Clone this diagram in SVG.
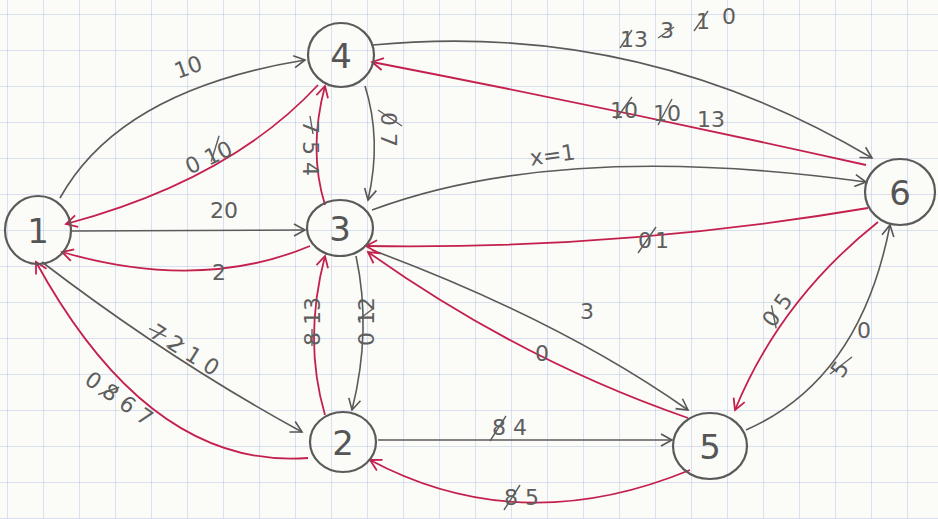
<svg xmlns="http://www.w3.org/2000/svg" width="938" height="519" viewBox="0 0 938 519">
<defs>
<pattern id="grid" width="36" height="36" patternUnits="userSpaceOnUse" x="7" y="14">
<path d="M0,0 L36,0 M0,0 L0,36" fill="none" stroke="#b9c5e6" stroke-width="1"/>
</pattern>
<marker id="ag" markerWidth="14" markerHeight="14" refX="12" refY="7" orient="auto" markerUnits="userSpaceOnUse">
<path d="M1,1 L12,7 L1,13" fill="none" stroke="#555" stroke-width="1.6"/>
</marker>
<marker id="ar" markerWidth="14" markerHeight="14" refX="12" refY="7" orient="auto" markerUnits="userSpaceOnUse">
<path d="M1,1 L12,7 L1,13" fill="none" stroke="#c4204e" stroke-width="1.8"/>
</marker>
</defs>
<style>
.node ellipse{fill:none;stroke:#5a5a5a;stroke-width:2.2}
.node text{font-family:"DejaVu Sans",sans-serif;font-size:34px;fill:#555;text-anchor:middle}
.g{fill:none;stroke:#5a5a5a;stroke-width:1.6;marker-end:url(#ag)}
.r{fill:none;stroke:#c4204e;stroke-width:1.8;marker-end:url(#ar)}
.lbl text{font-family:"DejaVu Sans",sans-serif;font-size:22px;fill:#5e5e5e}
.lbl line{stroke:#5e5e5e;stroke-width:1.4}
</style>
<rect width="938" height="519" fill="#fbfbf8"/>
<rect width="938" height="519" fill="url(#grid)"/>
<g id="connectors">
<path class="g" d="M60,198 Q120,90 305,60"/>
<path class="g" d="M373,45 Q640,20 872,158"/>
<path class="g" d="M365,86 Q382,140 368,200"/>
<path class="g" d="M72,231 L305,230"/>
<path class="g" d="M372,210 Q560,140 866,182"/>
<path class="g" d="M42,262 Q170,360 302,432"/>
<path class="g" d="M356,256 Q372,330 352,410"/>
<path class="g" d="M372,250 Q560,320 688,410"/>
<path class="g" d="M378,440 L672,440"/>
<path class="g" d="M746,430 Q860,380 890,225"/>
<path class="r" d="M318,85 Q230,180 66,224"/>
<path class="r" d="M325,205 Q308,150 325,86"/>
<path class="r" d="M866,165 Q620,110 372,62"/>
<path class="r" d="M310,246 Q200,292 62,252"/>
<path class="r" d="M868,208 Q620,250 366,246"/>
<path class="r" d="M325,415 Q303,340 325,256"/>
<path class="r" d="M308,458 Q150,470 36,262"/>
<path class="r" d="M688,418 Q520,360 368,252"/>
<path class="r" d="M878,222 Q780,300 735,410"/>
<path class="r" d="M690,470 Q520,540 370,460"/>
</g>
<g id="labels" class="lbl">
<text x="175" y="76" transform="rotate(-20 185 70)">10</text>
<g transform="rotate(-25 205 160)"><text x="185" y="167">0 10</text><line x1="210" y1="164" x2="228" y2="144"/></g>
<g><text x="620" y="47">13</text><line x1="620" y1="48" x2="632" y2="30"/><text x="660" y="38">3</text><line x1="658" y1="38" x2="674" y2="27"/><text x="696" y="29">1</text><line x1="694" y1="31" x2="708" y2="11"/><text x="722" y="24">0</text></g>
<g><text x="610" y="118">10</text><line x1="616" y1="119" x2="632" y2="97"/><text x="653" y="121">10</text><line x1="658" y1="125" x2="672" y2="99"/><text x="697" y="127">13</text></g>
<g transform="rotate(90 388 130)"><text x="370" y="137">0 7</text><line x1="368" y1="140" x2="384" y2="116"/></g>
<g transform="rotate(90 310 150)"><text x="280" y="157">7 5 4</text><line x1="276" y1="150" x2="294" y2="147"/></g>
<text x="210" y="218">20</text>
<text x="212" y="280">2</text>
<text x="530" y="163" transform="rotate(-8 550 157)">x=1</text>
<g><text x="638" y="248">0</text><line x1="638" y1="253" x2="656" y2="227"/><text x="655" y="248">1</text></g>
<g transform="rotate(-90 312 322)"><text x="288" y="330">8 13</text><line x1="288" y1="322" x2="305" y2="322"/></g>
<g transform="rotate(-90 366 322)"><text x="342" y="330">0 12</text><line x1="368" y1="314" x2="380" y2="330"/></g>
<text x="580" y="319">3</text>
<text x="535" y="361">0</text>
<g><text x="492" y="435">8 4</text><line x1="490" y1="441" x2="506" y2="416"/></g>
<g><text x="504" y="505">8 5</text><line x1="504" y1="510" x2="520" y2="485"/></g>
<g transform="rotate(-55 778 310)"><text x="760" y="317">0 5</text><line x1="762" y1="319" x2="778" y2="302"/></g>
<g><text x="832" y="376" transform="rotate(-55 840 368)">5</text><line x1="830" y1="374" x2="852" y2="357"/><text x="857" y="338">0</text></g>
<g transform="rotate(32 185 352)"><text x="145" y="358">7 2 1 0</text><line x1="142" y1="351" x2="161" y2="349"/><line x1="166" y1="357" x2="180" y2="345"/></g>
<g transform="rotate(35 120 400)"><text x="80" y="407">0 8 6 7</text><line x1="99" y1="408" x2="112" y2="390"/></g>
</g>
<g id="n1" class="node"><ellipse cx="38" cy="230" rx="33" ry="34"/><text x="38" y="243">1</text></g>
<g id="n4" class="node"><ellipse cx="341" cy="55" rx="33" ry="32"/><text x="341" y="68">4</text></g>
<g id="n3" class="node"><ellipse cx="340" cy="228" rx="33" ry="28"/><text x="340" y="241">3</text></g>
<g id="n6" class="node"><ellipse cx="900" cy="192" rx="35" ry="33"/><text x="900" y="205">6</text></g>
<g id="n2" class="node"><ellipse cx="343" cy="442" rx="33" ry="30"/><text x="343" y="455">2</text></g>
<g id="n5" class="node"><ellipse cx="710" cy="446" rx="37" ry="33"/><text x="710" y="459">5</text></g>
</svg>
